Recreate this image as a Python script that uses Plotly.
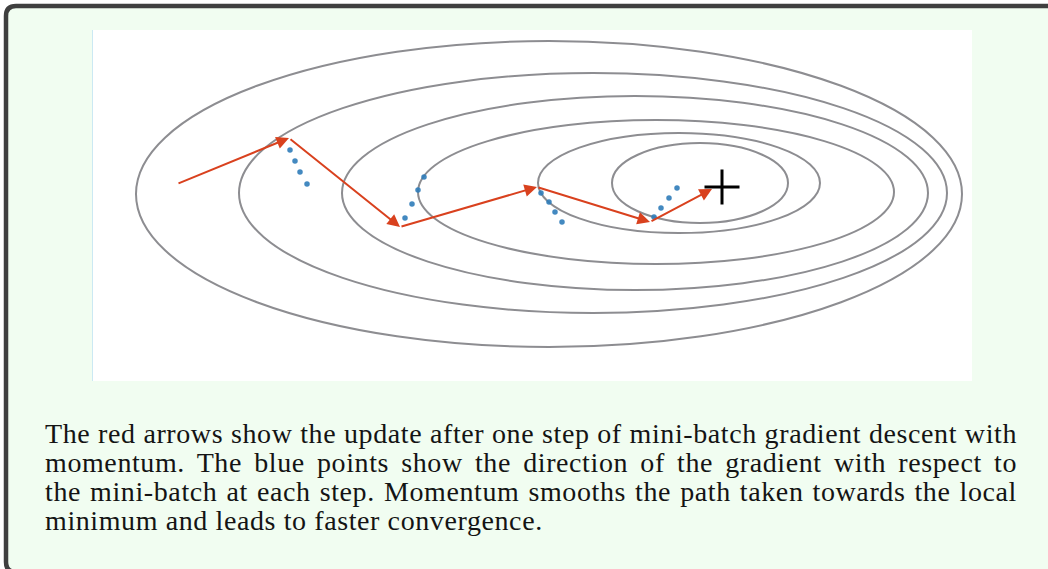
import plotly.graph_objects as go

# ---------------- data (pixel-space coordinates of the diagram) ----------------
# contour ellipses: centre x, centre y, half-width, half-height
ellipse_cx = [549, 593, 635, 656, 679, 700]
ellipse_cy = [194, 193, 193, 192, 183, 183]
ellipse_a = [413, 354, 293, 238, 141, 88]
ellipse_b = [153, 120, 97, 72, 50, 40]

# momentum path (red arrows)
path_x = [177, 289, 400, 537, 650, 712]
path_y = [184, 138, 227, 187, 222, 189]

# mini-batch gradient directions (blue points)
grad_x = [290, 295, 300, 307, 424, 418, 412, 405, 541, 549, 555, 562, 654, 661, 669, 677]
grad_y = [150, 161, 172, 184, 177, 190, 204, 218, 193, 202, 212, 222, 217, 208, 198, 188]

# local minimum
min_x = [722]
min_y = [187]

caption_lines = [
    "The red arrows show the update after one step of mini-batch gradient descent with",
    "momentum. The blue points show the direction of the gradient with respect to",
    "the mini-batch at each step. Momentum smooths the path taken towards the local",
    "minimum and leads to faster convergence.",
]
caption_baselines = [442, 471, 500, 529]

# ---------------- styles ----------------
W, H = 1048, 569
GRAY = "#8d8d91"
RED = "#d9411e"
BLUE = "#2f7cb9"
BOX_BG = "#f1fdf1"
BORDER = "#3f3f3f"
FONT = "Liberation Serif"
FS = 28

fig = go.Figure()

shapes = []
# framed box with rounded left corners
shapes.append(dict(
    type="path", xref="x", yref="y", layer="below",
    path="M 1070,6 L 16,6 Q 6,6 6,16 L 6,562 Q 6,572 16,572 L 1070,572 Z",
    fillcolor=BOX_BG, line=dict(color=BORDER, width=4.5),
))
# white image area
shapes.append(dict(type="rect", xref="x", yref="y", layer="below",
                   x0=93, x1=972, y0=30, y1=381,
                   fillcolor="white", line=dict(width=0)))
shapes.append(dict(type="line", xref="x", yref="y", layer="below",
                   x0=92.5, x1=92.5, y0=30, y1=381,
                   line=dict(color="#cbe9f3", width=1)))
# contour ellipses
for cx, cy, a, b in zip(ellipse_cx, ellipse_cy, ellipse_a, ellipse_b):
    shapes.append(dict(type="circle", xref="x", yref="y", layer="below",
                       x0=cx - a, x1=cx + a, y0=cy - b, y1=cy + b,
                       line=dict(color=GRAY, width=2)))

# blue gradient points
fig.add_trace(go.Scatter(
    x=grad_x, y=grad_y, mode="markers",
    marker=dict(symbol="circle", size=5.5, color=BLUE, opacity=0.9, line=dict(width=0)),
    hoverinfo="skip", showlegend=False,
))
# minimum marker
fig.add_trace(go.Scatter(
    x=min_x, y=min_y, mode="markers",
    marker=dict(symbol="cross-thin", size=25, line=dict(color="black", width=3)),
    hoverinfo="skip", showlegend=False,
))

annotations = []
for i in range(len(path_x) - 1):
    annotations.append(dict(
        x=path_x[i + 1], y=path_y[i + 1], ax=path_x[i], ay=path_y[i],
        xref="x", yref="y", axref="x", ayref="y", text="",
        showarrow=True, arrowhead=2, arrowsize=1.25, arrowwidth=2,
        arrowcolor=RED, standoff=0, startstandoff=0,
    ))
for line, base in zip(caption_lines, caption_baselines):
    annotations.append(dict(
        x=44, y=base - 9, xref="x", yref="y", xanchor="left", yanchor="middle",
        text=line, showarrow=False, align="left", borderpad=0,
        font=dict(family=FONT, size=FS, color="#141414"),
    ))

fig.update_layout(
    width=W, height=H,
    margin=dict(l=0, r=0, t=0, b=0),
    paper_bgcolor="white", plot_bgcolor="white",
    xaxis=dict(range=[0, W], visible=False, fixedrange=True),
    yaxis=dict(range=[H, 0], visible=False, fixedrange=True),
    shapes=shapes, annotations=annotations,
    showlegend=False,
)

# remove page margin, widen letter spacing slightly (Palatino-like width),
# and justify the first three caption lines to the right margin (x = 1017)
post = """
document.body.style.margin = '0';
document.body.style.padding = '0';
var gd = document.getElementById('{plot_id}');
var justify = %s;
var all = %s;
gd.querySelectorAll('text.annotation-text').forEach(function(t){
  var s = t.textContent;
  if (all.indexOf(s) >= 0) { t.style.letterSpacing = '0.6px'; }
  if (justify.indexOf(s) >= 0) {
    t.style.wordSpacing = '0px';
    var bb = t.getBBox();
    var ctm = t.getCTM();
    var left = bb.x + (ctm ? ctm.e : 0);
    var w = bb.width;
    var n = (s.match(/ /g) || []).length;
    var target = 1017 - left;
    if (n > 0) { t.style.wordSpacing = ((target - w) / n) + 'px'; }
  }
});
""" % (str(caption_lines[:3]).replace("'", '"'), str(caption_lines).replace("'", '"'))

fig.write_html("out.html", post_script=post, config={"displayModeBar": False})
